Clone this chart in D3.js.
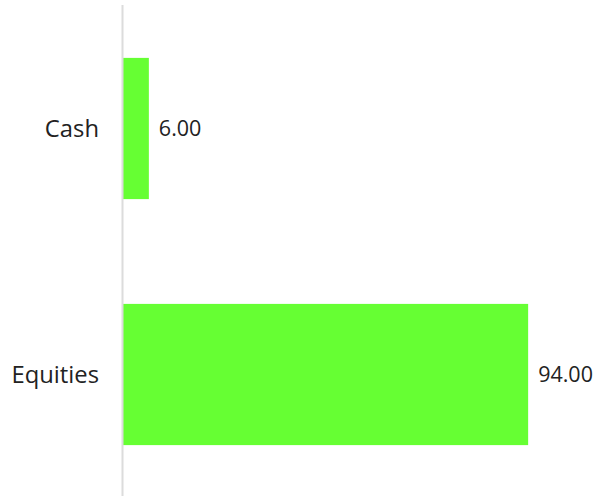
<!DOCTYPE html>
<html>
<head>
<meta charset="utf-8">
<script src="https://cdn.jsdelivr.net/npm/d3@7"></script>
<style>
  body { margin: 0; background: #fff; }
  text { font-family: "Open Sans", Lato, sans-serif; fill: #222; }
</style>
</head>
<body>
<div id="chart"></div>
<script>
// holdings split
var categories = ['Cash', 'Equities'];
var values = [6.00, 94.00];

var width = 611, height = 496;
var barColor = '#66ff33';

var svg = d3.select('#chart').append('svg')
    .attr('width', width)
    .attr('height', height);

var x = d3.scaleLinear().domain([0, 100]).range([123, 554]);
var y = d3.scaleBand().domain(categories).range([5, 498])
    .paddingInner(0.426).paddingOuter(0.215);

var data = categories.map(function(c, i) { return { name: c, value: values[i] }; });

// bars
svg.append('g').selectAll('rect')
    .data(data)
    .enter()
    .append('rect')
    .attr('x', x(0))
    .attr('y', function(d) { return y(d.name); })
    .attr('width', function(d) { return x(d.value) - x(0); })
    .attr('height', y.bandwidth())
    .attr('fill', barColor);

// axis line
svg.append('line')
    .attr('x1', x(0) - 0.5).attr('x2', x(0) - 0.5)
    .attr('y1', 5).attr('y2', height)
    .attr('stroke', '#dcdcdc')
    .attr('stroke-width', 2);

// category labels
svg.append('g').selectAll('text')
    .data(data)
    .enter()
    .append('text')
    .attr('x', 99)
    .attr('y', function(d) { return y(d.name) + y.bandwidth() / 2; })
    .attr('dy', '0.35em')
    .attr('text-anchor', 'end')
    .style('font-size', '23.8px')
    .text(function(d) { return d.name; });

// value labels
svg.append('g').selectAll('text')
    .data(data)
    .enter()
    .append('text')
    .attr('x', function(d) { return x(d.value) + 10; })
    .attr('y', function(d) { return y(d.name) + y.bandwidth() / 2; })
    .attr('dy', '0.35em')
    .style('font-size', '21.5px')
    .text(function(d) { return d3.format('.2f')(d.value); });
</script>
</body>
</html>
